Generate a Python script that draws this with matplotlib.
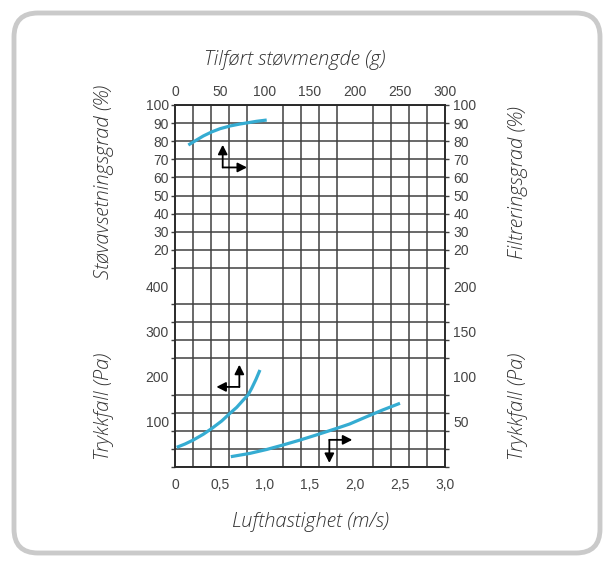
import numpy as np
import matplotlib
matplotlib.use('Agg')
import matplotlib.pyplot as plt
from matplotlib.patches import FancyBboxPatch
from matplotlib.transforms import IdentityTransform

# values
# Filtreringsgrad (%) vs tilført støvmengde (g)
dust_eff_g = [14.8, 24.1, 31.5, 41.1, 50, 61.1, 72.2, 81.1, 90.7, 101.9]
eff_pct = [77.9, 80.7, 82.9, 85.2, 86.9, 88.4, 89.5, 90.2, 91.0, 91.7]

# Trykkfall (Pa, venstre skala) vs tilført støvmengde (g)
dust_dp_g = [1.9, 11.1, 20.4, 31.4, 41.1, 51.9, 61.1, 68.6, 75.9, 81.1, 85.2, 90.0, 94.4]
dp_left_pa = [43.5, 50.8, 59.7, 72.3, 85.5, 101.7, 118.7, 131.9, 148.1, 159.1, 173.9, 193.8, 214.4]

# Trykkfall (Pa, høyre skala) vs lufthastighet (m/s)
vel_ms = [0.62, 0.83, 1.02, 1.20, 1.39, 1.57, 1.80, 1.94, 2.13, 2.31, 2.50]
dp_right_pa = [11.4, 15.0, 19.4, 24.3, 29.8, 35.4, 42.8, 47.5, 55.6, 63.1, 70.4]

vel_ticks = [0, 0.5, 1.0, 1.5, 2.0, 2.5, 3.0]
vel_labels = ['0', '0,5', '1,0', '1,5', '2,0', '2,5', '3,0']
dust_ticks = [0, 50, 100, 150, 200, 250, 300]
pct_ticks = [20, 30, 40, 50, 60, 70, 80, 90, 100]
pa_left_ticks = [100, 200, 300, 400]
pa_right_ticks = [50, 100, 150, 200]

W, H = 606, 561
fig = plt.figure(figsize=(W / 100, H / 100), dpi=100)

# card with rounded grey border
card = FancyBboxPatch((14, 8), 586, 540, boxstyle='round,pad=0,rounding_size=24',
                      transform=IdentityTransform(), facecolor='white',
                      edgecolor='#cacaca', lw=3.5, zorder=-10)
fig.patches.append(card)

rect = [175 / W, (H - 467) / H, 270 / W, 362 / H]
line_col = '#35acd2'
grid_col = '#404040'
tick_font = dict(family=['Liberation Sans', 'DejaVu Sans'], size=10, color='#444444')

# base axes: velocity along bottom, left pressure scale
ax = fig.add_axes(rect)
ax.patch.set_visible(False)
ax.set_xlim(0, 3.0)
ax.set_ylim(0, 800)
ax.set_xticks(np.arange(0, 3.01, 0.2), minor=True)
ax.set_yticks(np.arange(0, 801, 40), minor=True)
ax.set_xticks(vel_ticks)
ax.set_xticklabels(vel_labels, **tick_font)
ax.set_yticks(pa_left_ticks)
ax.set_yticklabels([str(v) for v in pa_left_ticks], **tick_font)
ax.grid(which='minor', color=grid_col, lw=1.1)
ax.tick_params(which='major', length=0)
ax.tick_params(axis='x', which='major', pad=8)
ax.tick_params(axis='y', which='major', pad=4.5)
ax.tick_params(which='minor', left=True, right=True, bottom=False,
               direction='out', length=3, width=1, color=grid_col)
for s in ax.spines.values():
    s.set_color('#2a2a2a')
    s.set_linewidth(1.4)

# percent scale (upper half, left), dust amount on top
ax2 = fig.add_axes(rect, frameon=False)
ax2.patch.set_visible(False)
ax2.set_xlim(0, 300)
ax2.set_ylim(-100, 100)
ax2.xaxis.tick_top()
ax2.set_xticks(dust_ticks)
ax2.set_xticklabels([str(v) for v in dust_ticks], **tick_font)
ax2.set_yticks(pct_ticks)
ax2.set_yticklabels([str(v) for v in pct_ticks], **tick_font)
ax2.tick_params(length=0)
ax2.tick_params(axis='x', pad=4)
ax2.tick_params(axis='y', pad=4.5)
ax2.plot(dust_eff_g, eff_pct, color=line_col, lw=2.3, solid_capstyle='butt')

# percent scale on the right
ax2r = fig.add_axes(rect, frameon=False)
ax2r.patch.set_visible(False)
ax2r.set_ylim(-100, 100)
ax2r.set_xticks([])
ax2r.yaxis.tick_right()
ax2r.set_yticks(pct_ticks)
ax2r.set_yticklabels([str(v) for v in pct_ticks], **tick_font)
ax2r.tick_params(length=0, pad=6)

# pressure drop vs dust amount, left scale
ax3 = fig.add_axes(rect, frameon=False)
ax3.patch.set_visible(False)
ax3.set_xlim(0, 300)
ax3.set_ylim(0, 800)
ax3.axis('off')
ax3.plot(dust_dp_g, dp_left_pa, color=line_col, lw=2.3, solid_capstyle='butt')

# pressure drop vs air velocity, right scale
ax4 = fig.add_axes(rect, frameon=False)
ax4.patch.set_visible(False)
ax4.set_xlim(0, 3.0)
ax4.set_ylim(0, 400)
ax4.set_xticks([])
ax4.yaxis.tick_right()
ax4.set_yticks(pa_right_ticks)
ax4.set_yticklabels([str(v) for v in pa_right_ticks], **tick_font)
ax4.tick_params(length=0, pad=6)
ax4.plot(vel_ms, dp_right_pa, color=line_col, lw=2.3, solid_capstyle='butt')

# L-shaped arrows telling which scales each curve belongs to
arr = dict(arrowstyle='-|>,head_length=0.55,head_width=0.28', color='black', lw=1.3,
           shrinkA=0, shrinkB=0)
def corner_arrow(corner, vert_end, horiz_end):
    ax.annotate('', xy=(corner[0], vert_end), xytext=corner, arrowprops=arr)
    ax.annotate('', xy=(horiz_end, corner[1]), xytext=corner, arrowprops=arr)

corner_arrow((0.53, 662), 712, 0.80)
corner_arrow((0.715, 177), 226, 0.46)
corner_arrow((1.715, 60), 9, 1.97)

title_font = dict(family=['Open Sans', 'DejaVu Sans'], style='italic', weight='light',
                  size=14.5, color='#333333')
fig.text(295 / W, 1 - 60 / H, 'Tilført støvmengde (g)', ha='center', va='center', **title_font)
fig.text(310 / W, 1 - 522 / H, 'Lufthastighet (m/s)', ha='center', va='center', **title_font)
fig.text(104 / W, 1 - 182 / H, 'Støvavsetningsgrad (%)', ha='center', va='center',
         rotation=90, **title_font)
fig.text(104 / W, 1 - 406 / H, 'Trykkfall (Pa)', ha='center', va='center',
         rotation=90, **title_font)
fig.text(518 / W, 1 - 183 / H, 'Filtreringsgrad (%)', ha='center', va='center',
         rotation=90, **title_font)
fig.text(518 / W, 1 - 406 / H, 'Trykkfall (Pa)', ha='center', va='center',
         rotation=90, **title_font)

fig.savefig('out.png', dpi=100)
